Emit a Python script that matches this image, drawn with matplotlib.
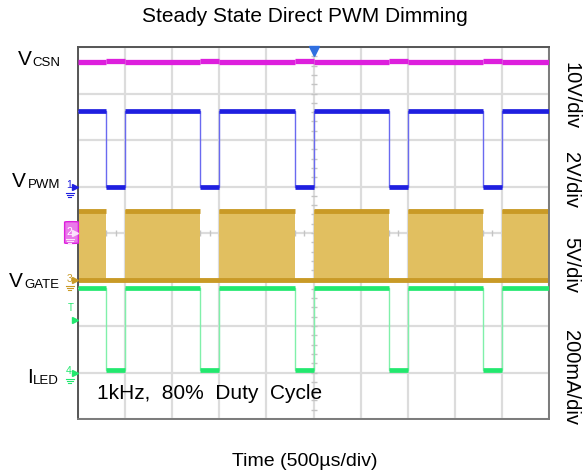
import numpy as np
import matplotlib
matplotlib.use("Agg")
import matplotlib.pyplot as plt
from matplotlib import transforms
from matplotlib.patches import FancyBboxPatch

plt.rcParams["font.family"] = ["Liberation Sans", "DejaVu Sans"]

# ---- time base -------------------------------------------------------------
us_per_div = 500
n_xdiv, n_ydiv = 10, 8
pwm_fall_us = [300, 1300, 2300, 3300, 4300]
pwm_rise_us = [500, 1500, 2500, 3500, 4500]
trigger_us = 2500
trigger_level_div = 2.13

# ---- channel settings (scale per div, ground position in div from bottom) ---
vcsn_scale_v, vcsn_offset_div = 10.0, 4.0
vcsn_on_v, vcsn_off_v = 36.8, 36.95

pwm_scale_v, pwm_offset_div = 2.0, 5.0
pwm_high_v, pwm_low_v = 3.25, 0.0

gate_scale_v, gate_offset_div = 5.0, 3.0
gate_high_v, gate_low_v = 7.5, 0.0

iled_scale_ma, iled_offset_div = 200.0, 1.0
iled_high_ma, iled_low_ma = 364.0, 10.0

scale_labels = ["10V/div", "2V/div", "5V/div", "200mA/div"]

C_CSN = "#dd1fdd"
C_PWM = "#1f1fe0"
C_GATE = "#c99a26"
C_GATE_FILL = "#e1bf60"
C_LED = "#22e86e"
C_GRID = "#dcdcdc"

t_end = us_per_div * n_xdiv


def to_div(value, scale, offset):
    return offset + value / scale


def step_wave(high, low):
    t, y = [0], [high]
    for f, r in zip(pwm_fall_us, pwm_rise_us):
        t += [f, f, r, r]
        y += [high, low, low, high]
    t.append(t_end)
    y.append(high)
    return np.array(t), np.array(y)


on_intervals = list(zip([0] + pwm_rise_us, pwm_fall_us + [t_end]))
off_intervals = list(zip(pwm_fall_us, pwm_rise_us))

fig = plt.figure(figsize=(5.84, 4.75), dpi=100)
ax = fig.add_axes([78 / 584, 1 - 419 / 475, 471 / 584, 372 / 475])
ax.set_xlim(0, t_end)
ax.set_ylim(0, n_ydiv)

# graticule
ax.set_xticks(np.arange(0, t_end + 1, us_per_div))
ax.set_yticks(np.arange(0, n_ydiv + 1, 1))
ax.tick_params(length=0, labelleft=False, labelbottom=False)
ax.grid(True, color=C_GRID, lw=1.6, zorder=0)
ax.set_axisbelow(True)
for name, sp in ax.spines.items():
    sp.set_color("#555555" if name in ("left", "top") else "#7a7a7a")
    sp.set_linewidth(1.4)

# centre crosshair sub-division ticks
ax.plot(np.full(41, t_end / 2), np.arange(0, 8.01, 0.2), ls="none",
        marker="_", ms=5, mew=1.0, color="#c4c4c4", zorder=1)
ax.plot(np.arange(0, t_end + 1, 100), np.full(51, n_ydiv / 2), ls="none",
        marker="|", ms=5, mew=1.0, color="#c4c4c4", zorder=1)


def draw_trace(high, low, color, edge_color, lw=3.2, z=3, edges=True):
    if edges:
        t, y = step_wave(high, low)
        ax.plot(t, y, color=edge_color, lw=1.0, zorder=z)
    for a, b in on_intervals:
        ax.plot([a, b], [high, high], color=color, lw=lw, zorder=z + 0.1,
                solid_capstyle="butt")
    for a, b in off_intervals:
        ax.plot([a, b], [low, low], color=color, lw=lw, zorder=z + 0.1,
                solid_capstyle="butt")


# V_CSN
draw_trace(to_div(vcsn_on_v, vcsn_scale_v, vcsn_offset_div),
           to_div(vcsn_off_v, vcsn_scale_v, vcsn_offset_div),
           C_CSN, C_CSN, lw=3.8, edges=False)

# V_PWM
draw_trace(to_div(pwm_high_v, pwm_scale_v, pwm_offset_div),
           to_div(pwm_low_v, pwm_scale_v, pwm_offset_div),
           C_PWM, "#6a6af0", lw=3.4)

# V_GATE: switching envelope while PWM is high
g_hi = to_div(gate_high_v, gate_scale_v, gate_offset_div)
g_lo = to_div(gate_low_v, gate_scale_v, gate_offset_div)
for a, b in on_intervals:
    ax.fill_between([a, b], g_lo, g_hi, color=C_GATE_FILL, lw=0, zorder=2)
    ax.plot([a, b], [g_hi - 0.03, g_hi - 0.03], color=C_GATE, lw=3.5,
            zorder=2.2, solid_capstyle="butt")
ax.plot([0, t_end], [g_lo, g_lo], color=C_GATE, lw=3.5, zorder=2.3)

# I_LED
draw_trace(to_div(iled_high_ma, iled_scale_ma, iled_offset_div),
           to_div(iled_low_ma, iled_scale_ma, iled_offset_div),
           C_LED, "#80f0aa", lw=3.4)

# trigger position marker
trig_tf = transforms.offset_copy(ax.transData, fig=fig, x=0, y=-4, units="dots")
ax.plot([trigger_us], [n_ydiv], marker="v", ms=6.5, color="#2f6fe0",
        transform=trig_tf, clip_on=False, zorder=6)

# ---- channel ground markers at the left edge --------------------------------
edge_tf = transforms.blended_transform_factory(ax.transAxes, ax.transData)


def off(dx, dy):
    return transforms.offset_copy(edge_tf, fig=fig, x=dx, y=dy, units="dots")


def ground_marker(y, label, color, txt_color=None):
    ax.plot([0], [y], marker=">", ms=4.5, color=color, transform=off(-3, 0),
            clip_on=False, zorder=6)
    ax.text(0, y, label, transform=off(-6, 1), ha="right", va="center",
            fontsize=7.5, color=txt_color or color, zorder=7)
    # earth symbol below the channel number
    for i, w in enumerate([4, 3, 1.5]):
        tf = off(-8.5, -6 - 2 * i)
        ax.plot(np.array([-w, w]) / 471.0, [y, y], color=color, lw=0.8,
                transform=tf, clip_on=False, zorder=6)


ground_marker(pwm_offset_div, "1", C_PWM)

# channel 2 badge
badge_y = vcsn_offset_div
badge = FancyBboxPatch((-11.5 / 471, badge_y - 0.22), 10 / 471, 0.46,
                       boxstyle="round,pad=0.004,rounding_size=0.01",
                       transform=edge_tf, facecolor="#ea7aea",
                       edgecolor=C_CSN, lw=1.0, clip_on=False, zorder=5)
ax.add_patch(badge)
ground_marker(vcsn_offset_div, "2", "#fbe3fb", txt_color="#ffffff")

ground_marker(gate_offset_div, "3", C_GATE)
ground_marker(iled_offset_div, "4", C_LED)

# trigger level marker
ax.plot([0], [trigger_level_div], marker=">", ms=4.5, color=C_LED,
        transform=off(-3, 0), clip_on=False, zorder=6)
ax.text(0, trigger_level_div, "T", transform=off(-4, 12), ha="right",
        va="center", fontsize=7, color=C_LED)

# ---- text -------------------------------------------------------------------
fig.text(305 / 584, 1 - 16 / 475, "Steady State Direct PWM Dimming",
         ha="center", va="center", fontsize=15)
fig.text(305 / 584, 1 - 461 / 475, "Time (500\u00b5s/div)",
         ha="center", va="center", fontsize=14)

ax.text(0.04, 0.055, "1kHz,  80%  Duty  Cycle", transform=ax.transAxes,
        ha="left", va="baseline", fontsize=15, zorder=8)

# trace names with subscripts (figure pixel positions)
names = [("V", "CSN", 18, 32, 65), ("V", "PWM", 12, 28, 187),
         ("V", "GATE", 9, 24, 287), ("I", "LED", 27, 33, 383)]
for main, sub, x_main, x_sub, base in names:
    fig.text(x_main / 584, 1 - base / 475, main, ha="left", va="baseline",
             fontsize=15)
    fig.text(x_sub / 584, 1 - (base + 1.5) / 475, sub, ha="left",
             va="baseline", fontsize=9.5)

# per-channel scale notes on the right
for lab, yc in zip(scale_labels, [96, 180, 265, 377]):
    fig.text(571 / 584, 1 - yc / 475, lab, rotation=-90, ha="center",
             va="center", fontsize=14.5)

fig.savefig("out.png", dpi=100)
